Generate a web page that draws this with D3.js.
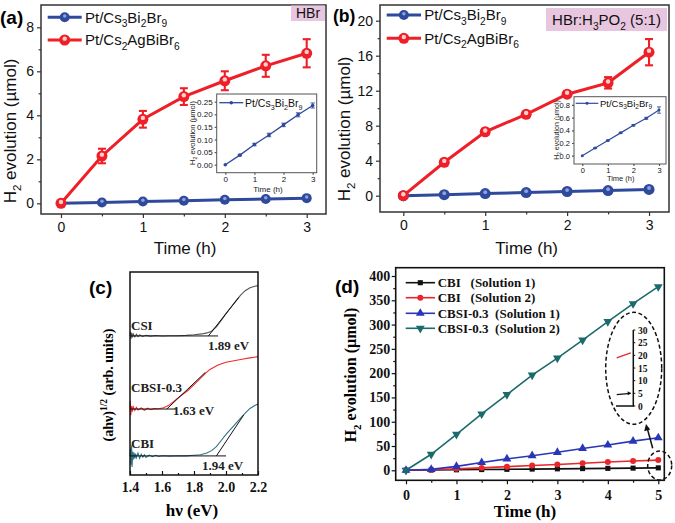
<!DOCTYPE html>
<html><head><meta charset="utf-8">
<script src="https://cdn.jsdelivr.net/npm/d3@7"></script>
<style>body{margin:0;background:#fff} svg{display:block} text{white-space:pre}</style>
</head><body><svg id="c" width="675" height="523"></svg>
<script>
// ---------------- DATA ----------------
const timeAB = [0, 0.5, 1, 1.5, 2, 2.5, 3];
const aBlue = [0, 0.038, 0.08, 0.118, 0.158, 0.198, 0.235];
const aBlueErr = [0, 0.003, 0.005, 0.007, 0.007, 0.008, 0.01];
const aRed = [0, 2.15, 3.82, 4.85, 5.57, 6.25, 6.82];
const aRedErr = [0, 0.33, 0.38, 0.38, 0.43, 0.5, 0.64];
const bBlue = [0, 0.12, 0.24, 0.36, 0.48, 0.59, 0.72];
const bBlueErr = [0, 0.005, 0.008, 0.01, 0.01, 0.015, 0.05];
const bRed = [0, 3.82, 7.3, 9.3, 11.6, 12.9, 16.4];
const bRedErr = [0, 0.3, 0.35, 0.3, 0.3, 0.65, 1.5];
const aYTicks = [0, 2, 4, 6, 8];
const bYTicks = [0, 4, 8, 12, 16, 20];
const abXTicks = [0, 1, 2, 3];
const aInsetYTicks = [0, 0.05, 0.10, 0.15, 0.20, 0.25];
const bInsetYTicks = [0, 0.2, 0.4, 0.6, 0.8];

// panel c spectra: [photon energy (eV), (ahv)^1/2 arb.]
const cCSI = [[1.40,6.85],[1.403,7.05],[1.406,6.7],[1.41,7.0],[1.415,6.78],[1.42,6.95],[1.43,6.8],[1.44,6.93],[1.45,6.82],[1.46,6.9],[1.48,6.83],[1.50,6.88],[1.53,6.84],[1.56,6.87],[1.60,6.85],[1.65,6.86],[1.70,6.86],[1.75,6.88],[1.80,6.91],[1.85,6.95],[1.88,7.0],[1.91,7.08],[1.94,7.3],[1.97,7.62],[2.00,7.95],[2.03,8.25],[2.06,8.55],[2.09,8.85],[2.12,9.08],[2.15,9.22],[2.18,9.3],[2.20,9.33]];
const cCBSI = [[1.40,3.25],[1.402,3.65],[1.405,2.95],[1.41,3.4],[1.415,3.12],[1.42,3.36],[1.43,3.18],[1.44,3.33],[1.45,3.2],[1.47,3.3],[1.49,3.19],[1.51,3.29],[1.53,3.22],[1.55,3.27],[1.58,3.26],[1.61,3.31],[1.64,3.42],[1.67,3.6],[1.70,3.8],[1.73,3.98],[1.76,4.15],[1.80,4.45],[1.84,4.76],[1.87,5.0],[1.90,5.2],[1.95,5.42],[2.00,5.55],[2.05,5.63],[2.10,5.7],[2.15,5.77],[2.20,5.83]];
const cCBI = [[1.40,0.94],[1.403,1.3],[1.406,0.5],[1.41,1.45],[1.413,0.4],[1.417,1.15],[1.42,0.75],[1.425,1.1],[1.43,0.8],[1.435,1.05],[1.44,0.85],[1.45,1.08],[1.46,0.82],[1.47,1.02],[1.48,0.88],[1.49,1.0],[1.50,0.86],[1.52,0.98],[1.54,0.9],[1.56,0.97],[1.58,0.91],[1.60,0.95],[1.65,0.93],[1.70,0.95],[1.75,0.94],[1.80,0.97],[1.84,1.0],[1.88,1.08],[1.91,1.2],[1.94,1.4],[1.97,1.7],[2.00,2.0],[2.04,2.35],[2.08,2.7],[2.12,3.05],[2.15,3.28],[2.18,3.42],[2.20,3.5]];
const cNames = ['CSI', 'CBSI-0.3', 'CBI'];
const cGaps = ['1.89 eV', '1.63 eV', '1.94 eV'];
const cBaseline = [[1.40, 1.95, 6.85], [1.40, 1.69, 3.25], [1.40, 2.00, 0.94]];
const cTangent = [[1.89, 6.85, 2.08, 8.75], [1.63, 3.25, 1.87, 5.05], [1.94, 0.94, 2.11, 2.95]];
const cXTicks = [1.4, 1.6, 1.8, 2.0, 2.2];

// panel d
const timeD = [0, 0.5, 1, 1.5, 2, 2.5, 3, 3.5, 4, 4.5, 5];
const cbiSol1 = [0, 0.5, 1, 1.5, 2, 2.5, 3, 3.5, 4, 4.5, 5];
const cbiSol2 = [0, 1, 3, 5, 7.5, 10, 12, 14.5, 17, 19, 21];
const cbsiSol1 = [0, 2, 8, 16, 23.5, 30, 37, 45, 52, 60, 67];
const cbsiSol2 = [0, 33, 74, 116, 156, 196, 231, 268, 306, 343, 378];
const dNames = ['CBI   (Solution 1)', 'CBI   (Solution 2)', 'CBSI-0.3  (Solution 1)', 'CBSI-0.3  (Solution 2)'];
const dYTicks = [0, 50, 100, 150, 200, 250, 300, 350, 400];
const dXTicks = [0, 1, 2, 3, 4, 5];
const dZoomTicks = [0, 5, 10, 15, 20, 25, 30];

// ---------------- HELPERS ----------------
const svg = d3.select('#c');
svg.append('rect').attr('width', 675).attr('height', 523).attr('fill', '#fff');
const SANS = 'Liberation Sans, Arial, sans-serif';
const SERIF = 'Liberation Serif, Times New Roman, serif';

function rich(t, parts, fs) {
  let off = 0;
  parts.forEach(p => {
    let s = p, target = 0, size = fs;
    if (typeof p === 'object') {
      if (p.sub !== undefined) { s = p.sub; target = fs * 0.3; size = fs * 0.68; }
      else { s = p.sup; target = -fs * 0.4; size = fs * 0.68; }
    }
    t.append('tspan').attr('dy', (target - off).toFixed(2)).attr('font-size', size).text(s);
    off = target;
  });
  return t;
}
function styleAxis(a, fam, fs, weight, col) {
  a.select('.domain').remove();
  a.selectAll('line').attr('stroke', col).attr('stroke-width', 1.2);
  a.selectAll('text').attr('font-family', fam).attr('font-size', fs).attr('font-weight', weight).attr('fill', '#111');
}

function frameAxes(o) {
  const x = d3.scaleLinear().domain(o.xd).range([o.l, o.r]);
  const y = d3.scaleLinear().domain(o.yd).range([o.b, o.t]);
  const g = svg.append('g');
  if (o.bg) g.append('rect').attr('x', o.l).attr('y', o.t).attr('width', o.r - o.l).attr('height', o.b - o.t).attr('fill', '#fff');
  const gx = g.append('g').attr('transform', `translate(0,${o.b})`)
    .call(d3.axisBottom(x).tickValues(o.xt).tickSize(o.tk).tickPadding(o.txp).tickFormat(o.xf));
  const gy = g.append('g').attr('transform', `translate(${o.l},0)`)
    .call(d3.axisLeft(y).tickValues(o.yt).tickSize(o.tk).tickPadding(o.typ).tickFormat(o.yf));
  styleAxis(gx, o.fam, o.fs, o.fw, o.col);
  styleAxis(gy, o.fam, o.fs, o.fw, o.col);
  if (o.xm) {
    const m = g.append('g').attr('transform', `translate(0,${o.b})`).call(d3.axisBottom(x).tickValues(o.xm).tickSize(o.tk * 0.6).tickFormat(''));
    styleAxis(m, o.fam, o.fs, o.fw, o.col);
  }
  if (o.ym) {
    const m = g.append('g').attr('transform', `translate(${o.l},0)`).call(d3.axisLeft(y).tickValues(o.ym).tickSize(o.tk * 0.6).tickFormat(''));
    styleAxis(m, o.fam, o.fs, o.fw, o.col);
  }
  g.append('rect').attr('x', o.l).attr('y', o.t).attr('width', o.r - o.l).attr('height', o.b - o.t)
    .attr('fill', 'none').attr('stroke', o.col).attr('stroke-width', o.fsw || 1.5);
  return { x, y, g };
}

function seriesAB(p, xs, ys, errs, color, lw, r, cap, hl) {
  const pts = xs.map((t, i) => [t, ys[i], errs[i]]);
  p.g.append('path').datum(pts).attr('fill', 'none').attr('stroke', color).attr('stroke-width', lw)
    .attr('d', d3.line().x(d => p.x(d[0])).y(d => p.y(d[1])));
  pts.forEach(d => {
    if (d[2] > 0) {
      const cx = p.x(d[0]), y1 = p.y(d[1] - d[2]), y2 = p.y(d[1] + d[2]);
      p.g.append('line').attr('x1', cx).attr('x2', cx).attr('y1', y1).attr('y2', y2).attr('stroke', color).attr('stroke-width', lw * 0.7);
      [y1, y2].forEach(yy => p.g.append('line').attr('x1', cx - cap).attr('x2', cx + cap).attr('y1', yy).attr('y2', yy).attr('stroke', color).attr('stroke-width', lw * 0.7));
    }
  });
  p.g.selectAll(null).data(pts).enter().append('circle').attr('cx', d => p.x(d[0])).attr('cy', d => p.y(d[1])).attr('r', r).attr('fill', color);
  if (hl) p.g.selectAll(null).data(pts).enter().append('circle').attr('cx', d => p.x(d[0])).attr('cy', d => p.y(d[1]) - r * 0.25).attr('r', r * hl[0]).attr('fill', hl[1]);
}

const BLUE = '#2f4a9c', RED = '#ee1f26';

function legendAB(x1, x2, y, color, parts, fs, lw, r, hl, tx) {
  svg.append('line').attr('x1', x1).attr('x2', x2).attr('y1', y).attr('y2', y).attr('stroke', color).attr('stroke-width', lw);
  svg.append('circle').attr('cx', (x1 + x2) / 2).attr('cy', y).attr('r', r).attr('fill', color);
  if (hl) svg.append('circle').attr('cx', (x1 + x2) / 2).attr('cy', y - r * 0.25).attr('r', r * hl[0]).attr('fill', hl[1]);
  const t = svg.append('text').attr('x', tx).attr('y', y + fs * 0.36).attr('font-family', SANS).attr('font-size', fs).attr('fill', '#111');
  rich(t, parts, fs);
}
const cs3 = ['Pt/Cs', { sub: '3' }, 'Bi', { sub: '2' }, 'Br', { sub: '9' }];
const cs2 = ['Pt/Cs', { sub: '2' }, 'AgBiBr', { sub: '6' }];
const h2title = ['H', { sub: '2' }, ' evolution (\u00b5mol)'];

// ---------------- PANEL A ----------------
{
  const p = frameAxes({ l: 41, r: 326, t: 5, b: 214, xd: [-0.2442, 3.2357], yd: [-0.486, 9.014],
    xt: abXTicks, yt: aYTicks, xm: [0.5, 1.5, 2.5], ym: [1, 3, 5, 7], tk: 4, txp: 4, typ: 3,
    xf: d3.format('d'), yf: d3.format('d'), fam: SANS, fs: 14, fw: 'normal', col: '#333' });
  seriesAB(p, timeAB, aBlue, aBlue.map(() => 0), BLUE, 3, 5, 0, [0.35, '#8ea3dc']);
  seriesAB(p, timeAB, aRed, aRedErr, RED, 3, 5.5, 4, [0.4, '#ffd0d0']);
  svg.append('rect').attr('x', 291).attr('y', 5.5).attr('width', 34).attr('height', 15.5).attr('fill', '#e8c6df');
  svg.append('text').attr('x', 308).attr('y', 18).attr('text-anchor', 'middle').attr('font-family', SANS).attr('font-size', 14).attr('fill', '#111').text('HBr');
  legendAB(47.7, 81.7, 17.3, BLUE, cs3, 15, 3, 5, [0.35, '#8ea3dc'], 85);
  legendAB(47.7, 81.7, 40, RED, cs2, 15, 3, 5.5, [0.4, '#ffd0d0'], 85);
  svg.append('text').attr('x', 0).attr('y', 24).attr('font-family', SANS).attr('font-size', 19).attr('font-weight', 'bold').text('(a)');
  svg.append('text').attr('x', 185).attr('y', 254).attr('text-anchor', 'middle').attr('font-family', SANS).attr('font-size', 17).attr('fill', '#111').text('Time (h)');
  rich(svg.append('text').attr('transform', 'translate(16,131) rotate(-90)').attr('text-anchor', 'middle').attr('font-family', SANS).attr('font-size', 17).attr('fill', '#111'), h2title, 17);

  // inset
  const q = frameAxes({ l: 216.7, r: 316.7, t: 94, b: 172.7, xd: [-0.295, 3.138], yd: [-0.0317, 0.2806], bg: true,
    xt: abXTicks, yt: aInsetYTicks, tk: 2, txp: 2, typ: 2,
    xf: d3.format('d'), yf: d3.format('.2f'), fam: SANS, fs: 8, fw: 'normal', col: '#555', fsw: 1 });
  seriesAB(q, timeAB, aBlue, aBlueErr, BLUE, 1.3, 1.8, 2.2, null);
  svg.append('line').attr('x1', 219.3).attr('x2', 243.3).attr('y1', 102.7).attr('y2', 102.7).attr('stroke', BLUE).attr('stroke-width', 1.3);
  svg.append('circle').attr('cx', 231.3).attr('cy', 102.7).attr('r', 1.8).attr('fill', BLUE);
  rich(svg.append('text').attr('x', 245).attr('y', 106.5).attr('font-family', SANS).attr('font-size', 10.5).attr('fill', '#111'), cs3, 10.5);
  svg.append('text').attr('x', 268).attr('y', 192).attr('text-anchor', 'middle').attr('font-family', SANS).attr('font-size', 8).attr('fill', '#222').text('Time (h)');
  rich(svg.append('text').attr('transform', 'translate(195,133) rotate(-90)').attr('text-anchor', 'middle').attr('font-family', SANS).attr('font-size', 7.5).attr('fill', '#222'), h2title, 7.5);
}

// ---------------- PANEL B ----------------
{
  const p = frameAxes({ l: 380, r: 669, t: 5, b: 212, xd: [-0.2845, 3.2439], yd: [-1.863, 21.794],
    xt: abXTicks, yt: bYTicks, xm: [0.5, 1.5, 2.5], ym: [2, 6, 10, 14, 18], tk: 4, txp: 4, typ: 3,
    xf: d3.format('d'), yf: d3.format('d'), fam: SANS, fs: 14, fw: 'normal', col: '#333' });
  seriesAB(p, timeAB, bBlue, bBlue.map(() => 0), BLUE, 3, 5.5, 0, [0.35, '#8ea3dc']);
  seriesAB(p, timeAB, bRed, bRedErr, RED, 3, 5.5, 4, [0.4, '#ffd0d0']);
  svg.append('rect').attr('x', 546).attr('y', 8).attr('width', 121).attr('height', 23).attr('fill', '#e8c6df');
  rich(svg.append('text').attr('x', 606.5).attr('y', 25).attr('text-anchor', 'middle').attr('font-family', SANS).attr('font-size', 15).attr('fill', '#111'),
    ['HBr:H', { sub: '3' }, 'PO', { sub: '2' }, ' (5:1)'], 15);
  legendAB(386.7, 421, 15, BLUE, cs3, 15, 3, 5, [0.35, '#8ea3dc'], 424.3);
  legendAB(386.7, 421, 38.3, RED, cs2, 15, 3, 5.5, [0.4, '#ffd0d0'], 424.3);
  svg.append('text').attr('x', 333).attr('y', 22).attr('font-family', SANS).attr('font-size', 17.5).attr('font-weight', 'bold').text('(b)');
  svg.append('text').attr('x', 526.7).attr('y', 254).attr('text-anchor', 'middle').attr('font-family', SANS).attr('font-size', 17).attr('fill', '#111').text('Time (h)');
  rich(svg.append('text').attr('transform', 'translate(350,129) rotate(-90)').attr('text-anchor', 'middle').attr('font-family', SANS).attr('font-size', 17).attr('fill', '#111'), h2title, 17);

  const q = frameAxes({ l: 574, r: 666, t: 96.7, b: 164, xd: [-0.3246, 3.2733], yd: [-0.131, 0.9302], bg: true,
    xt: abXTicks, yt: bInsetYTicks, tk: 2, txp: 2, typ: 2,
    xf: d3.format('d'), yf: d3.format('.1f'), fam: SANS, fs: 7.5, fw: 'normal', col: '#555', fsw: 1 });
  seriesAB(q, timeAB, bBlue, bBlueErr, BLUE, 1.2, 1.5, 2, null);
  svg.append('line').attr('x1', 575.7).attr('x2', 598.3).attr('y1', 103.3).attr('y2', 103.3).attr('stroke', BLUE).attr('stroke-width', 1.2);
  svg.append('circle').attr('cx', 587).attr('cy', 103.3).attr('r', 1.5).attr('fill', BLUE);
  rich(svg.append('text').attr('x', 600).attr('y', 106.6).attr('font-family', SANS).attr('font-size', 9.5).attr('fill', '#111'), cs3, 9.5);
  svg.append('text').attr('x', 620.7).attr('y', 181).attr('text-anchor', 'middle').attr('font-family', SANS).attr('font-size', 7.5).attr('fill', '#222').text('Time (h)');
  rich(svg.append('text').attr('transform', 'translate(559,130) rotate(-90)').attr('text-anchor', 'middle').attr('font-family', SANS).attr('font-size', 7).attr('fill', '#222'), h2title, 7);
}

// ---------------- PANEL C ----------------
{
  const x = d3.scaleLinear().domain([1.4, 2.2]).range([130, 258]);
  const y = d3.scaleLinear().domain([0, 10]).range([475, 272]);
  const g = svg.append('g');
  const cols = ['#555555', '#f02a2a', '#2e7284'];
  [cCSI, cCBSI, cCBI].forEach((s, i) => {
    g.append('path').datum(s).attr('fill', 'none').attr('stroke', cols[i]).attr('stroke-width', 1.1)
      .attr('d', d3.line().x(d => x(d[0])).y(d => y(d[1])));
    const b = cBaseline[i];
    g.append('line').attr('x1', x(b[0])).attr('x2', x(b[1])).attr('y1', y(b[2])).attr('y2', y(b[2])).attr('stroke', '#111').attr('stroke-width', 1);
    const tn = cTangent[i];
    g.append('line').attr('x1', x(tn[0])).attr('y1', y(tn[1])).attr('x2', x(tn[2])).attr('y2', y(tn[3])).attr('stroke', '#111').attr('stroke-width', 1);
  });
  const ax = g.append('g').attr('transform', 'translate(0,475)').call(d3.axisBottom(x).tickValues(cXTicks).tickSize(-4).tickPadding(7).tickFormat(d3.format('.1f')));
  styleAxis(ax, SERIF, 14, 'bold', '#111');
  const mx = g.append('g').attr('transform', 'translate(0,475)').call(d3.axisBottom(x).tickValues([1.5, 1.7, 1.9, 2.1]).tickSize(-2).tickFormat(''));
  styleAxis(mx, SERIF, 14, 'bold', '#111');
  g.append('rect').attr('x', 130).attr('y', 272).attr('width', 128).attr('height', 203).attr('fill', 'none').attr('stroke', '#111').attr('stroke-width', 1.5);
  const labY = [330, 392, 447.5];
  const gapPos = [[208, 350], [173, 414.5], [202, 470]];
  cNames.forEach((n, i) => {
    g.append('text').attr('x', 131).attr('y', labY[i]).attr('font-family', SERIF).attr('font-size', 13).attr('font-weight', 'bold').attr('fill', '#222').text(n);
    g.append('text').attr('x', gapPos[i][0]).attr('y', gapPos[i][1]).attr('font-family', SERIF).attr('font-size', 13).attr('font-weight', 'bold').attr('fill', '#222').text(cGaps[i]);
  });
  svg.append('text').attr('x', 89).attr('y', 294).attr('font-family', SANS).attr('font-size', 19).attr('font-weight', 'bold').text('(c)');
  svg.append('text').attr('x', 192).attr('y', 516).attr('text-anchor', 'middle').attr('font-family', SERIF).attr('font-size', 17).attr('font-weight', 'bold').text('h\u03bd (eV)');
  rich(svg.append('text').attr('transform', 'translate(113,385) rotate(-90)').attr('text-anchor', 'middle').attr('font-family', SERIF).attr('font-size', 14).attr('font-weight', 'bold'),
    ['(ah\u03bd)', { sup: '1/2' }, ' (arb. units)'], 14);
}

// ---------------- PANEL D ----------------
{
  const p = frameAxes({ l: 395.7, r: 664.3, t: 267.7, b: 480.3, xd: [-0.2041, 5.119], yd: [-20.59, 417.1],
    xt: dXTicks, yt: dYTicks, xm: [0.5, 1.5, 2.5, 3.5, 4.5], ym: d3.range(25, 400, 50), tk: 4, txp: 5.5, typ: 1.5,
    xf: d3.format('d'), yf: d3.format('d'), fam: SERIF, fs: 14, fw: 'bold', col: '#111', fsw: 1.6 });
  const dCols = ['#111111', '#e8262b', '#2a36b8', '#1b6a6c'];
  const syms = [d3.symbol().type(d3.symbolSquare).size(26), d3.symbol().type(d3.symbolCircle).size(28),
    d3.symbol().type(d3.symbolTriangle).size(34), d3.symbol().type(d3.symbolTriangle).size(34)];
  const rot = [0, 0, 0, 180];
  [cbiSol1, cbiSol2, cbsiSol1, cbsiSol2].forEach((s, i) => {
    const pts = timeD.map((t, j) => [t, s[j]]);
    p.g.append('path').datum(pts).attr('fill', 'none').attr('stroke', dCols[i]).attr('stroke-width', 1.6)
      .attr('d', d3.line().x(d => p.x(d[0])).y(d => p.y(d[1])));
    p.g.selectAll(null).data(pts).enter().append('path').attr('d', syms[i]).attr('fill', dCols[i])
      .attr('transform', d => `translate(${p.x(d[0])},${p.y(d[1])}) rotate(${rot[i]})`);
    const ly = [282.7, 297.7, 313.3, 328.3][i];
    svg.append('line').attr('x1', 405.7).attr('x2', 435).attr('y1', ly).attr('y2', ly).attr('stroke', dCols[i]).attr('stroke-width', 1.6);
    svg.append('path').attr('d', syms[i]).attr('fill', dCols[i]).attr('transform', `translate(420.3,${ly}) rotate(${rot[i]})`);
    svg.append('text').attr('x', 437.7).attr('y', ly + 4.5).attr('font-family', SERIF).attr('font-size', 13).attr('font-weight', 'bold').attr('fill', '#111').text(dNames[i]);
  });
  // zoomed view of the last points
  const zx = d3.scaleLinear().domain([4.5, 5]).range([616.7, 630.7]);
  const zy = d3.scaleLinear().domain([0, 30]).range([406, 330]);
  svg.append('path').attr('fill', 'none').attr('stroke', '#111').attr('stroke-width', 1.5)
    .attr('d', `M${zx(4.5) - 0.7},${zy(0)}H${zx(5) + 2.6}V${zy(30)}`);
  dZoomTicks.forEach(v => {
    svg.append('line').attr('x1', zx(5) + 2.6).attr('x2', zx(5) + 4.6).attr('y1', zy(v)).attr('y2', zy(v)).attr('stroke', '#111');
    svg.append('text').attr('x', 638).attr('y', zy(v) + 3.5).attr('font-family', SERIF).attr('font-size', 9.5).attr('font-weight', 'bold').attr('fill', '#111').text(v);
  });
  [[cbiSol1, '#111'], [cbiSol2, '#e8262b']].forEach(([s, c]) => {
    svg.append('line').attr('x1', zx(4.5)).attr('x2', zx(5)).attr('y1', zy(s[9])).attr('y2', zy(s[10])).attr('stroke', c).attr('stroke-width', 1.3);
  });
  svg.append('path').attr('d', `M${zx(5) - 3},${zy(cbiSol1[10]) - 2}L${zx(5) + 0.5},${zy(cbiSol1[10])}L${zx(5) - 3},${zy(cbiSol1[10]) + 2}Z`).attr('fill', '#111');
  svg.append('ellipse').attr('cx', 633.7).attr('cy', 368.3).attr('rx', 28).attr('ry', 56).attr('fill', 'none').attr('stroke', '#111').attr('stroke-width', 1.5).attr('stroke-dasharray', '4,2.5');
  svg.append('ellipse').attr('cx', 659.7).attr('cy', 465.5).attr('rx', 12).attr('ry', 14.5).attr('fill', 'none').attr('stroke', '#111').attr('stroke-width', 1.5).attr('stroke-dasharray', '4,2.5');
  svg.append('line').attr('x1', 652.7).attr('y1', 448.3).attr('x2', 647.3).attr('y2', 428.5).attr('stroke', '#111').attr('stroke-width', 1.5);
  svg.append('path').attr('d', 'M646,424L644.2,431.2L650.2,429.6Z').attr('fill', '#111');
  svg.append('text').attr('x', 335).attr('y', 293).attr('font-family', SANS).attr('font-size', 19).attr('font-weight', 'bold').text('(d)');
  svg.append('text').attr('x', 525).attr('y', 517).attr('text-anchor', 'middle').attr('font-family', SERIF).attr('font-size', 17).attr('font-weight', 'bold').text('Time (h)');
  rich(svg.append('text').attr('transform', 'translate(356,375) rotate(-90)').attr('text-anchor', 'middle').attr('font-family', SERIF).attr('font-size', 16).attr('font-weight', 'bold'), h2title, 16);
}
</script></body></html>
